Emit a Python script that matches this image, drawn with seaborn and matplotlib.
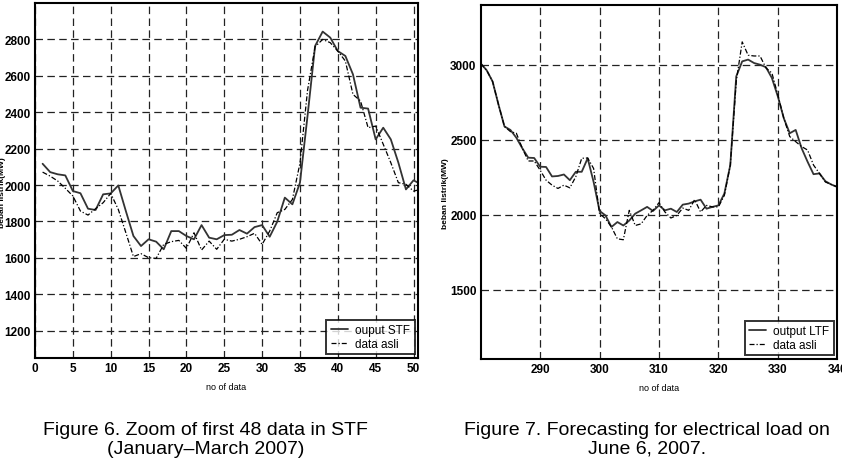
import numpy as np
import pandas as pd
import matplotlib
matplotlib.use('Agg')
import matplotlib.pyplot as plt
import seaborn as sns
from matplotlib import font_manager

# STF zoom data (left)
stf_x = list(range(1, 52))
stf_output = [2117, 2071, 2059, 2053, 1967, 1955, 1870, 1863, 1949, 1954,
              1998, 1857, 1720, 1665, 1702, 1689, 1647, 1747, 1747, 1720,
              1702, 1780, 1711, 1702, 1725, 1727, 1753, 1733, 1769, 1780,
              1716, 1799, 1931, 1894, 2013, 2380, 2764, 2843, 2810, 2736,
              2709, 2608, 2425, 2420, 2251, 2315, 2251, 2123, 1976, 2026, 2004]
stf_asli = [2071, 2049, 2022, 1982, 1940, 1857, 1835, 1870, 1903, 1954,
            1866, 1738, 1607, 1623, 1601, 1597, 1674, 1689, 1696, 1652,
            1738, 1643, 1692, 1647, 1702, 1692, 1702, 1716, 1735, 1674,
            1747, 1848, 1866, 1921, 2120, 2520, 2760, 2800, 2782, 2736,
            2681, 2498, 2462, 2315, 2324, 2224, 2123, 2013, 2004, 1967, 1976]

# LTF forecast data (right)
ltf_x = list(range(280, 341))
ltf_output = [3010, 2965, 2890, 2735, 2590, 2567, 2515, 2445, 2382, 2380,
              2322, 2320, 2257, 2260, 2270, 2232, 2288, 2288, 2378, 2220,
              2027, 1997, 1920, 1953, 1930, 1963, 2009, 2031, 2054, 2027,
              2064, 2031, 2042, 2020, 2069, 2076, 2091, 2102, 2042, 2054,
              2064, 2143, 2333, 2924, 3024, 3036, 3013, 3002, 2985, 2913,
              2790, 2645, 2545, 2567, 2445, 2355, 2272, 2277, 2225, 2203, 2187]
ltf_asli = [3010, 2965, 2890, 2735, 2590, 2556, 2545, 2445, 2360, 2360,
            2299, 2232, 2199, 2177, 2199, 2181, 2255, 2378, 2380, 2310,
            2009, 1975, 1920, 1841, 1835, 2031, 1930, 1941, 1997, 2031,
            2082, 2020, 1980, 1997, 2046, 2031, 2102, 2020, 2064, 2054,
            2054, 2131, 2333, 2891, 3154, 3065, 3060, 3060, 2980, 2946,
            2801, 2645, 2523, 2489, 2456, 2433, 2333, 2277, 2220, 2203, 2187]

stf_ticks_x = list(range(0, 51, 5))
stf_ticks_y = list(range(1200, 2801, 200))
ltf_ticks_x = list(range(290, 341, 10))
ltf_ticks_y = [1500, 2000, 2500, 3000]

sns.set_style("white")
names = {f.name for f in font_manager.fontManager.ttflist}
narrow = 'Liberation Sans Narrow' if 'Liberation Sans Narrow' in names else 'Liberation Sans'
plt.rcParams['font.family'] = [narrow, 'DejaVu Sans']
plt.rcParams['text.color'] = 'black'
plt.rcParams['xtick.color'] = 'black'
plt.rcParams['ytick.color'] = 'black'
plt.rcParams['axes.labelcolor'] = 'black'

fig = plt.figure(figsize=(8.42, 4.60), dpi=100)
ax1 = fig.add_axes([0.0416, 0.2196, 0.4549, 0.7717])
ax2 = fig.add_axes([0.5709, 0.2174, 0.4235, 0.7696])

dashdot = (0, (4, 1.6, 1, 1.6))


def draw(ax, x, out, asli, out_label, xlim, ylim, xt, yt, ylab_x):
    sns.lineplot(x=x, y=out, ax=ax, color='#333333', lw=1.3, label=out_label)
    sns.lineplot(x=x, y=asli, ax=ax, color='black', lw=0.9,
                 linestyle=dashdot, label='data asli')
    ax.set_xlim(*xlim)
    ax.set_ylim(*ylim)
    ax.set_xticks(xt)
    ax.set_yticks(yt)
    ax.grid(True, color='#222222', linestyle=(0, (6, 3.5)), lw=0.9)
    for s in ax.spines.values():
        s.set_color('black')
        s.set_linewidth(1.5)
    ax.tick_params(length=0, pad=3, labelsize=8.5)
    for lab in ax.get_xticklabels() + ax.get_yticklabels():
        lab.set_fontweight('bold')
    ax.set_xlabel('no of data', fontsize=6.5, labelpad=6)
    ax.set_ylabel('beban listrik(MW)', fontsize=6, fontweight='bold')
    ax.yaxis.set_label_coords(ylab_x, 0.47)
    leg = ax.legend(loc='lower right', fontsize=8.5, frameon=True, fancybox=False,
                    handlelength=1.5, handletextpad=0.6, borderpad=0.35,
                    labelspacing=0.2, borderaxespad=0.3)
    leg.get_frame().set_edgecolor('black')
    leg.get_frame().set_linewidth(1.4)


draw(ax1, stf_x, stf_output, stf_asli, 'ouput STF', (0, 50.6), (1050, 3000),
     stf_ticks_x, stf_ticks_y, -0.076)
draw(ax2, ltf_x, ltf_output, ltf_asli, 'output LTF', (280, 340), (1040, 3400),
     ltf_ticks_x, ltf_ticks_y, -0.09)

fig.text(0.244, 0.044, 'Figure 6. Zoom of first 48 data in STF\n(January\u2013March 2007)',
         ha='center', va='center', fontsize=14, linespacing=1.15, color='black')
fig.text(0.768, 0.044, 'Figure 7. Forecasting for electrical load on\nJune 6, 2007.',
         ha='center', va='center', fontsize=14, linespacing=1.15, color='black')

fig.savefig('out.png', dpi=100)
